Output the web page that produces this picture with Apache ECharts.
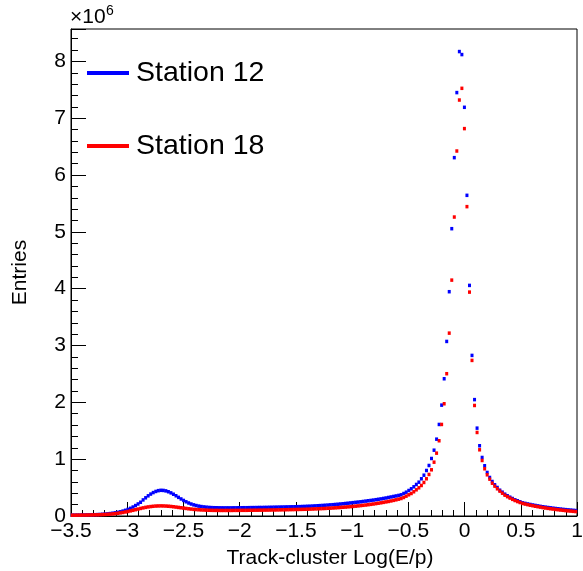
<!DOCTYPE html>
<html>
<head>
<meta charset="utf-8">
<script src="https://cdn.jsdelivr.net/npm/echarts@6/dist/echarts.min.js"></script>
<style>
html,body{margin:0;padding:0;background:#fff;}
#chart{width:583px;height:571px;}
</style>
</head>
<body>
<div id="chart"></div>
<script>
// Histogram binning (200 bins from -3.5 to 1)
var xMin = -3.5;
var xMax = 1.0;
var nBins = 200;
var binWidth = (xMax - xMin) / nBins;

var seriesNames = ['Station 12', 'Station 18'];
var xTickLabels = ['-3.5', '-3', '-2.5', '-2', '-1.5', '-1', '-0.5', '0', '0.5', '1'];
var yTickLabels = ['0', '1', '2', '3', '4', '5', '6', '7', '8'];

// Entries per bin, in units of 10^6
var station12 = [
0.015,0.015,0.016,0.016,0.017,0.018,0.019,0.020,0.021,0.023,
0.025,0.027,0.030,0.034,0.038,0.043,0.049,0.056,0.064,0.074,
0.086,0.100,0.116,0.135,0.158,0.184,0.212,0.242,0.283,0.320,
0.355,0.386,0.412,0.432,0.446,0.452,0.450,0.442,0.427,0.407,
0.383,0.356,0.328,0.300,0.274,0.250,0.229,0.211,0.196,0.184,
0.174,0.166,0.160,0.155,0.151,0.148,0.146,0.145,0.144,0.143,
0.143,0.143,0.143,0.143,0.144,0.144,0.145,0.145,0.146,0.146,
0.147,0.148,0.148,0.149,0.150,0.150,0.151,0.152,0.153,0.154,
0.155,0.156,0.157,0.158,0.159,0.160,0.161,0.162,0.163,0.164,
0.165,0.167,0.169,0.171,0.173,0.175,0.178,0.180,0.183,0.186,
0.189,0.192,0.196,0.199,0.203,0.207,0.211,0.215,0.220,0.225,
0.230,0.235,0.240,0.245,0.250,0.256,0.262,0.268,0.274,0.280,
0.287,0.294,0.301,0.309,0.317,0.326,0.335,0.344,0.353,0.362,
0.373,0.396,0.419,0.449,0.479,0.514,0.555,0.595,0.655,0.718,
0.801,0.889,1.012,1.158,1.352,1.611,1.951,2.415,3.072,3.947,
5.056,6.306,7.451,8.173,8.120,7.192,5.643,4.058,2.826,2.048,
1.546,1.236,1.030,0.884,0.766,0.678,0.607,0.549,0.502,0.454,
0.419,0.384,0.356,0.331,0.308,0.285,0.268,0.250,0.232,0.222,
0.212,0.203,0.194,0.186,0.178,0.170,0.163,0.156,0.150,0.144,
0.138,0.132,0.127,0.122,0.117,0.112,0.108,0.104,0.100,0.096
];

var station18 = [
0.014,0.014,0.015,0.015,0.016,0.016,0.017,0.018,0.019,0.020,
0.021,0.023,0.025,0.027,0.030,0.033,0.037,0.042,0.048,0.055,
0.062,0.071,0.080,0.090,0.100,0.111,0.122,0.133,0.143,0.152,
0.160,0.166,0.171,0.175,0.177,0.178,0.177,0.175,0.172,0.168,
0.163,0.157,0.151,0.145,0.139,0.133,0.127,0.122,0.117,0.113,
0.110,0.107,0.105,0.103,0.101,0.100,0.099,0.099,0.098,0.098,
0.098,0.098,0.098,0.098,0.099,0.099,0.099,0.100,0.100,0.100,
0.101,0.101,0.102,0.102,0.103,0.103,0.104,0.104,0.105,0.106,
0.106,0.107,0.108,0.109,0.110,0.111,0.112,0.113,0.114,0.115,
0.116,0.117,0.118,0.120,0.121,0.123,0.125,0.127,0.129,0.131,
0.133,0.136,0.138,0.141,0.144,0.147,0.150,0.154,0.157,0.161,
0.165,0.169,0.173,0.178,0.183,0.188,0.193,0.199,0.205,0.211,
0.218,0.225,0.232,0.240,0.248,0.256,0.265,0.275,0.285,0.296,
0.308,0.326,0.349,0.373,0.396,0.426,0.461,0.496,0.537,0.590,
0.655,0.731,0.813,0.947,1.106,1.324,1.611,1.975,2.504,3.218,
4.151,5.261,6.423,7.320,7.526,6.817,5.444,3.940,2.738,1.945,
1.470,1.165,0.977,0.831,0.725,0.648,0.577,0.525,0.479,0.437,
0.401,0.366,0.340,0.315,0.293,0.272,0.254,0.237,0.221,0.210,
0.200,0.190,0.181,0.172,0.164,0.156,0.148,0.141,0.134,0.128,
0.122,0.116,0.110,0.105,0.100,0.095,0.090,0.086,0.082,0.078
];

var colors = ['#0000ff', '#ff0000'];
var yMax = 8.57;

function toPoints(vals) {
  return vals.map(function (v, i) { return [xMin + (i + 0.5) * binWidth, v]; });
}
function minusSign(s) { return String(s).replace('-', '\u2212'); }

var FONT = '"Liberation Sans", Arial, Helvetica, sans-serif';

var chart = echarts.init(document.getElementById('chart'), null, {renderer: 'canvas'});
chart.setOption({
  animation: false,
  backgroundColor: '#ffffff',
  textStyle: {fontFamily: FONT},
  grid: {left: 71, right: 6, top: 29, bottom: 55, containLabel: false, outerBoundsMode: 'none', show: true, borderColor: '#000', borderWidth: 1, backgroundColor: 'transparent'},
  legend: {
    orient: 'vertical',
    left: 82,
    top: 53,
    itemWidth: 42,
    itemHeight: 4,
    itemGap: 43,
    data: [
      {name: seriesNames[0], icon: 'rect'},
      {name: seriesNames[1], icon: 'rect'}
    ],
    itemStyle: {opacity: 1},
    lineStyle: {opacity: 1},
    textStyle: {fontFamily: FONT, fontSize: 28.5, color: '#000', padding: [0, 0, 0, 2], lineHeight: 30}
  },
  xAxis: {
    type: 'value',
    min: xMin,
    max: xMax,
    interval: 0.5,
    name: 'Track-cluster Log(E/p)',
    nameLocation: 'middle',
    nameGap: 32,
    nameTextStyle: {fontFamily: FONT, fontSize: 21, color: '#000', padding: [0, 0, 0, 12]},
    axisLine: {show: true, onZero: false, lineStyle: {color: '#000', width: 1}},
    axisTick: {show: true, inside: true, length: 14, lineStyle: {color: '#000'}},
    minorTick: {show: true, splitNumber: 5, length: 6, lineStyle: {color: '#000'}},
    splitLine: {show: false},
    axisLabel: {
      margin: 5, fontSize: 21, color: '#000', fontFamily: FONT,
      formatter: function (v) {
        var s = String(Math.round(v * 10) / 10);
        return xTickLabels.indexOf(s) >= 0 ? minusSign(s) : '';
      }
    }
  },
  yAxis: [{
    type: 'value',
    min: 0,
    max: yMax,
    interval: 1,
    position: 'left',
    name: 'Entries',
    nameLocation: 'middle',
    nameGap: 40,
    nameRotate: 90,
    nameTextStyle: {fontFamily: FONT, fontSize: 21, color: '#000'},
    axisLine: {show: true, onZero: false, lineStyle: {color: '#000', width: 1}},
    axisTick: {show: true, inside: true, length: 15, lineStyle: {color: '#000'}},
    splitLine: {show: false},
    axisLabel: {
      margin: 5, fontSize: 21, color: '#000', fontFamily: FONT,
      formatter: function (v) {
        var s = String(Math.round(v * 100) / 100);
        return yTickLabels.indexOf(s) >= 0 ? s : '';
      }
    }
  }, {
    type: 'value',
    min: 0,
    max: yMax,
    interval: 0.2,
    position: 'left',
    offset: 0,
    axisLine: {show: false, onZero: false},
    axisTick: {show: true, inside: true, length: 7, lineStyle: {color: '#000'}},
    axisLabel: {show: false},
    splitLine: {show: false}
  }],
  graphic: [
    {type: 'text', left: 70, top: 7, style: {text: '\u00d710', fontFamily: FONT, fontSize: 21, fill: '#000'}},
    {type: 'text', left: 106, top: 4, style: {text: '6', fontFamily: FONT, fontSize: 14, fill: '#000'}}
  ],
  series: [
    {
      name: seriesNames[0], type: 'scatter', symbol: 'rect', symbolSize: [3, 3.5],
      itemStyle: {color: colors[0], opacity: 1}, data: toPoints(station12), z: 2
    },
    {
      name: seriesNames[1], type: 'scatter', symbol: 'rect', symbolSize: [3, 3.5],
      itemStyle: {color: colors[1], opacity: 1}, data: toPoints(station18), z: 3
    }
  ]
});
</script>
</body>
</html>
